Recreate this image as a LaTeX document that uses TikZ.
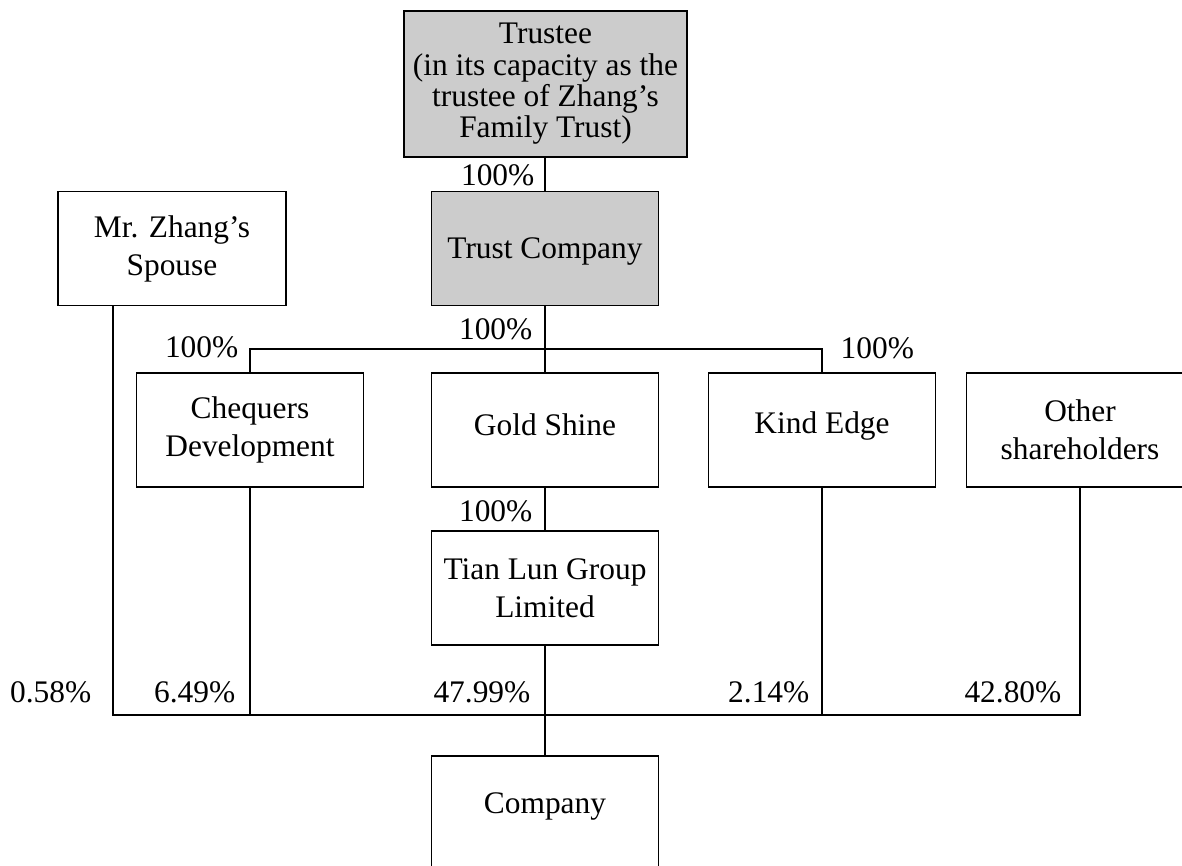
\documentclass[tikz,border=0pt]{standalone}
\usepackage{fontspec}
\setmainfont{Liberation Serif}

\tikzset{
    box/.style={draw, line width=0.7pt, minimum width=113.5pt, minimum height=57pt, align=center, inner sep=2pt},
    graybox/.style={box, fill=gray!40},
    pct/.style={inner sep=0pt}
}

\begin{document}
\begin{tikzpicture}[x=0.5pt, y=0.5pt, line width=0.7pt, font=\fontsize{15.7pt}{19pt}\selectfont]

\useasboundingbox (0, 0) rectangle (1182, 866);

\node[graybox, minimum width=141.5pt, minimum height=73pt, font=\fontsize{15.7pt}{15.7pt}\selectfont] (trustee) at (545.5, 782) {Trustee\\(in its capacity as the\\trustee of Zhang's\\Family Trust)};
\node[graybox, text depth=0pt] (trustco) at (545, 617.5) {Trust Company};
\node[box, minimum width=114pt] (spouse) at (172, 617.5) {Mr. Zhang's\\Spouse};

\node[box] (chequers) at (250, 436) {Chequers\\Development};
\node[box, text depth=5.7pt] (gold) at (545, 436) {Gold Shine};
\node[box, text depth=7.7pt] (kind) at (822, 436) {Kind Edge};
\node[box] (other) at (1080, 436) {Other\\shareholders};

\node[box] (tianlun) at (545, 278) {Tian Lun Group\\Limited};
\node[box, text depth=9.7pt] (company) at (545, 53) {Company};

\coordinate (upbus) at (545, 517);
\coordinate (lowleft) at (113, 151);

\draw (trustco.north) -- (trustco.north |- trustee.south);
\draw (trustco.south) -- (gold.north);
\draw (chequers.north) |- (upbus) -| (kind.north);
\draw (gold.south) -- (tianlun.north);

\draw (spouse.south -| lowleft) -- (lowleft) -- (other.south |- lowleft) -- (other.south);
\draw (chequers.south) -- (chequers.south |- lowleft);
\draw (kind.south) -- (kind.south |- lowleft);
\draw (tianlun.south) -- (company.north);

\node[pct, anchor=east] (p1) at (535, 691) {100\%};
\node[pct, anchor=east] (p2) at (533, 537) {100\%};
\node[pct, anchor=east] (p3) at (239, 519) {100\%};
\node[pct, anchor=west] (p4) at (840, 518) {100\%};
\node[pct, anchor=east] (p5) at (533, 355) {100\%};

\node[pct, anchor=east] (s1) at (92, 174) {0.58\%};
\node[pct, anchor=east] (s2) at (236, 174) {6.49\%};
\node[pct, anchor=east] (s3) at (531, 174) {47.99\%};
\node[pct, anchor=east] (s4) at (810, 174) {2.14\%};
\node[pct, anchor=east] (s5) at (1062, 174) {42.80\%};

\end{tikzpicture}
\end{document}
